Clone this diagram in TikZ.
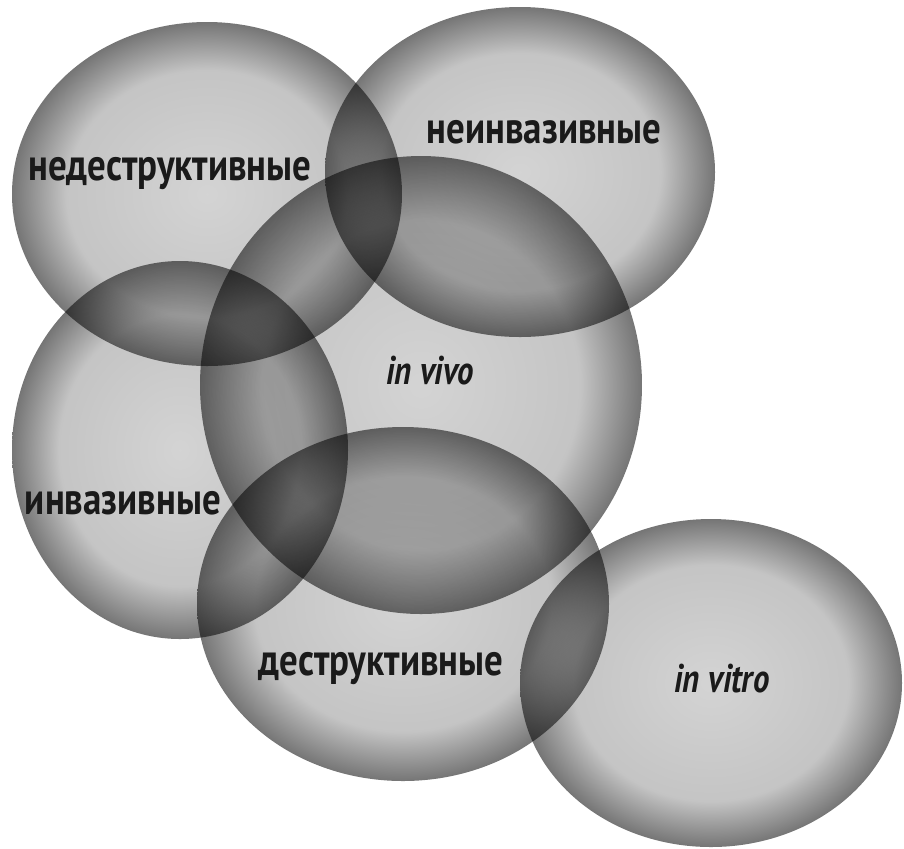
\documentclass[tikz,border=0pt]{standalone}
\usepackage{fontspec}
\setmainfont{PT Sans}
\newfontfamily\vennfont{PT Sans}[FakeStretch=0.82]
\usetikzlibrary{shapes.geometric}
\definecolor{setcenter}{gray}{0.83}
\definecolor{setmid}{gray}{0.77}
\definecolor{setedge}{gray}{0.46}
\definecolor{darktext}{HTML}{1A1A1A}
\pgfdeclareradialshading{setshade}{\pgfpoint{0bp}{0bp}}{color(0bp)=(setcenter); color(18bp)=(setmid); color(25bp)=(setedge); color(50bp)=(setedge)}

\begin{document}
\begin{tikzpicture}[x=0.5pt, y=-0.5pt,
    set/.style={ellipse, shade, shading=setshade, inner sep=0pt, outer sep=0pt},
    lbl/.style={anchor=base, text=darktext, font=\vennfont\bfseries\fontsize{22.5}{22.5}\selectfont},
    latin/.style={lbl, font=\vennfont\bfseries\itshape\fontsize{20}{20}\selectfont}
]
    \useasboundingbox (0,0) rectangle (904,848);
    \begin{scope}[blend mode=multiply]
        \node[set, minimum width=195pt, minimum height=172pt] (nondestr) at (207,194) {};
        \node[set, minimum width=195pt, minimum height=165pt] (noninv) at (520,172) {};
        \node[set, minimum width=221pt, minimum height=229pt] (vivo) at (421,385) {};
        \node[set, minimum width=168pt, minimum height=189pt] (inv) at (180,450) {};
        \node[set, minimum width=206pt, minimum height=177pt] (destr) at (403,604) {};
        \node[set, minimum width=191pt, minimum height=164pt] (vitro) at (711,683) {};
    \end{scope}
    \node[lbl] (nondestrlbl) at (170,180) {недеструктивные};
    \node[lbl] (noninvlbl) at (544,143) {неинвазивные};
    \node[latin] (vivolbl) at (430,384) {in vivo};
    \node[lbl] (invlbl) at (123,514) {инвазивные};
    \node[lbl] (destrlbl) at (381,675) {деструктивные};
    \node[latin] (vitrolbl) at (722,692) {in vitro};
\end{tikzpicture}
\end{document}
